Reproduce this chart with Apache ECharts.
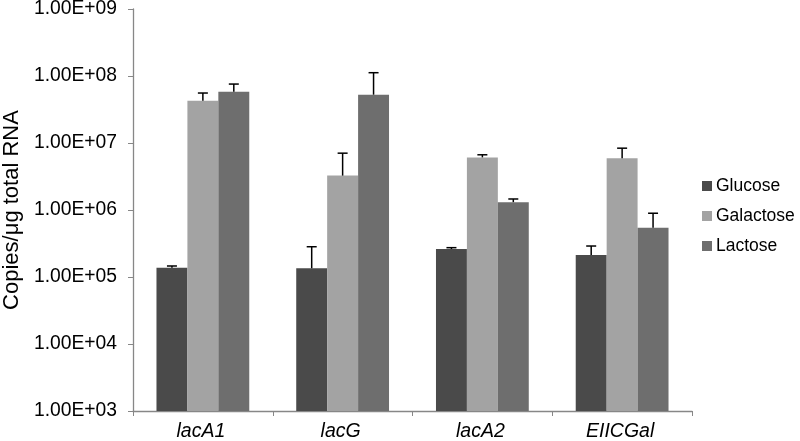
<!DOCTYPE html>
<html><head><meta charset="utf-8">
<script src="https://cdn.jsdelivr.net/npm/echarts@6/dist/echarts.min.js"></script>
<style>html,body{margin:0;padding:0;background:#fff}#c{width:800px;height:441px}</style>
</head><body><div id="c"></div>
<script>
var categories = ['lacA1', 'lacG', 'lacA2', 'EIICGal'];
var seriesNames = ['Glucose', 'Galactose', 'Lactose'];
var glucose = [1.38e5, 1.35e5, 2.62e5, 2.13e5];
var galactose = [4.28e7, 3.26e6, 6.1e6, 5.94e6];
var lactose = [5.82e7, 5.26e7, 1.31e6, 5.42e5];
var glucoseErrTop = [1.46e5, 2.83e5, 2.74e5, 2.9e5];
var galactoseErrTop = [5.57e7, 7.05e6, 6.67e6, 8.37e6];
var lactoseErrTop = [7.58e7, 1.12e8, 1.46e6, 8.95e5];
var yTicks = [1e3, 1e4, 1e5, 1e6, 1e7, 1e8, 1e9];

var colors = ['#4a4a4a', '#a3a3a3', '#6e6e6e'];
var values = [glucose, galactose, lactose];
var errs = [glucoseErrTop, galactoseErrTop, lactoseErrTop];
var gapFrac = 0.336;

function fmt(v) {
  var e = Math.round(Math.log10(v));
  return '1.00E+' + (e < 10 ? '0' + e : e);
}

var series = [];
seriesNames.forEach(function (n, i) {
  series.push({
    name: n, type: 'bar', data: values[i], barGap: '0%', barCategoryGap: (gapFrac * 100) + '%',
    itemStyle: { color: colors[i] }, animation: false
  });
});
seriesNames.forEach(function (n, i) {
  series.push({
    name: n + ' err', type: 'custom', animation: false, z: 5,
    data: categories.map(function (c, k) { return [k, values[i][k], errs[i][k]]; }),
    encode: { x: 0, y: [1, 2] },
    renderItem: function (params, api) {
      var k = api.value(0);
      var band = api.size([1, 0])[0];
      var bw = band * (1 - gapFrac) / 3;
      var p0 = api.coord([k, api.value(1)]);
      var p1 = api.coord([k, api.value(2)]);
      var x = p0[0] + (i - 1) * bw;
      var cap = 5;
      var st = { stroke: '#000', lineWidth: 1.5 };
      return { type: 'group', children: [
        { type: 'line', shape: { x1: x, y1: p0[1], x2: x, y2: p1[1] }, style: st },
        { type: 'line', shape: { x1: x - cap, y1: p1[1], x2: x + cap, y2: p1[1] }, style: st }
      ] };
    }
  });
});

var chart = echarts.init(document.getElementById('c'));
chart.setOption({
  backgroundColor: '#fff',
  animation: false,
  textStyle: { fontFamily: 'Liberation Sans, Arial, sans-serif' },
  grid: { left: 133, right: 108, top: 9, bottom: 30, containLabel: false, outerBoundsMode: 'none' },
  legend: {
    data: seriesNames, orient: 'vertical', left: 697, top: 172,
    itemWidth: 10, itemHeight: 10, itemGap: 12, icon: 'rect',
    textStyle: { fontSize: 17.5, color: '#000', fontFamily: 'Liberation Sans, Arial, sans-serif', padding: [0, 0, 0, -1] }
  },
  xAxis: {
    type: 'category', data: categories,
    axisLine: { lineStyle: { color: '#878787', width: 1.3 } },
    axisTick: { show: true, length: 5, lineStyle: { color: '#878787' } },
    axisLabel: { fontSize: 19.5, fontStyle: 'italic', color: '#000', margin: 11, padding: [0, 4, 0, 0] }
  },
  yAxis: {
    type: 'log', logBase: 10, min: yTicks[0], max: yTicks[yTicks.length - 1],
    name: 'Copies/\u03bcg total RNA', nameLocation: 'middle', nameGap: 104,
    nameTextStyle: { fontSize: 22, color: '#000' },
    axisLine: { show: true, lineStyle: { color: '#878787', width: 1.3 } },
    axisTick: { show: true, length: 5, lineStyle: { color: '#878787' } },
    splitLine: { show: false },
    axisLabel: { fontSize: 19.3, color: '#000', margin: 16, formatter: fmt }
  },
  series: series
});
</script></body></html>
